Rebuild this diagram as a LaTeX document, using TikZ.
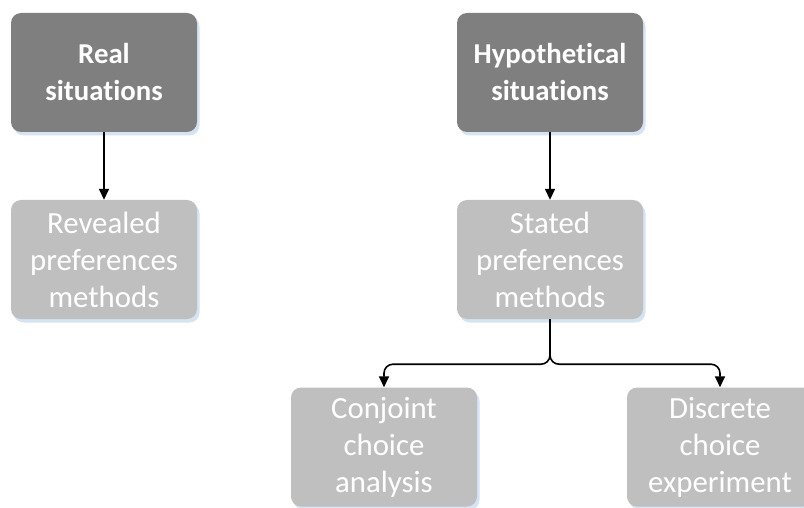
\documentclass[tikz,border=0pt]{standalone}
\usepackage{fontspec}
\setmainfont{Carlito}[Ligatures=NoCommon]
\usetikzlibrary{arrows.meta,shadows}
\definecolor{darkbox}{HTML}{7F7F7F}
\definecolor{lightbox}{HTML}{BFBFBF}
\definecolor{shadowblue}{HTML}{D6E3F3}
% plain t followed by i, without the ti ligature
\newcommand{\tsep}{t\kern0pt i}
\tikzset{
  box/.style={rectangle, rounded corners=10pt, minimum width=186pt,
    minimum height=119pt, text width=184pt, align=center, inner sep=0pt,
    text=white, font=\fontsize{30.8pt}{37pt}\selectfont,
    general shadow={fill=shadowblue, shadow xshift=2.5pt, shadow yshift=-3.5pt}},
  topbox/.style={box, fill=darkbox, font=\fontsize{28.8pt}{37pt}\selectfont\bfseries},
  subbox/.style={box, fill=lightbox},
  arr/.style={-{Triangle[length=11pt,width=10pt]}, line width=1.6pt, black},
}
\begin{document}
\begin{tikzpicture}[x=1pt,y=1pt]
  \useasboundingbox (0,0) rectangle (804,507);
  \clip (0,0) rectangle (804,507);
  % upper row
  \node[topbox] (real) at (104,434.5) {Real\\situa\tsep ons};
  \node[topbox] (hyp)  at (550,434.5) {Hypothe\tsep cal\\situa\tsep ons};
  % method families
  \node[subbox] (rev)    at (104,247.5) {Revealed\\preferences\\methods};
  \node[subbox] (stated) at (550,247.5) {Stated\\preferences\\methods};
  % stated preference techniques
  \node[subbox] (conj) at (384,60) {Conjoint\\choice\\analysis};
  \node[subbox] (dce)  at (720,60) {Discrete\\choice\\experiment};
  % connectors
  \draw[arr] (real) -- (rev);
  \draw[arr] (hyp) -- (stated);
  \draw[arr, rounded corners=9pt] (stated.south) -- ++(0,-45) -| (conj.north);
  \draw[arr, rounded corners=9pt] (stated.south) -- ++(0,-45) -| (dce.north);
\end{tikzpicture}
\end{document}
